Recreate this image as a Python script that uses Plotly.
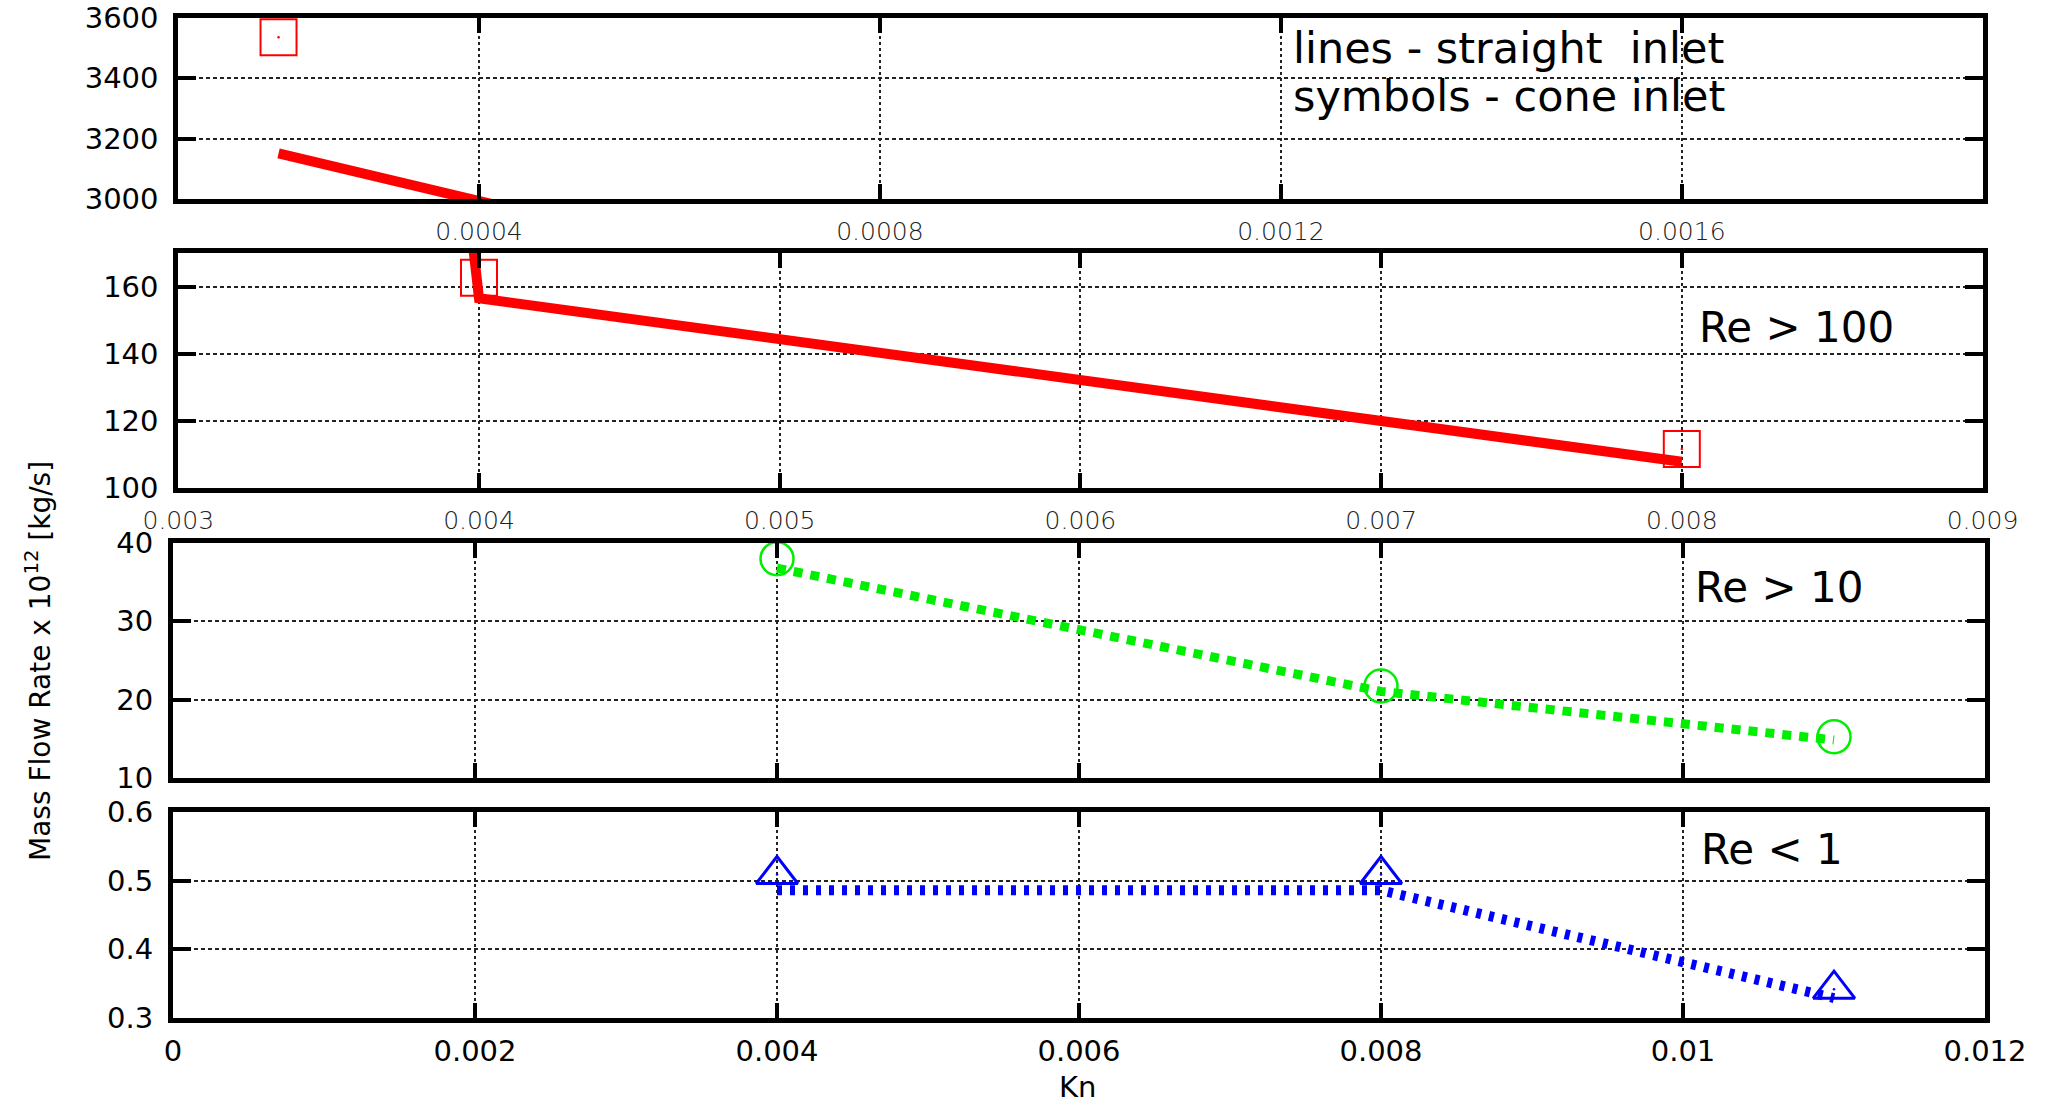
import plotly.graph_objects as go

W, H = 2052, 1106

# ---------------- data ----------------
# Re > 100 (red): straight inlet = line, cone inlet = squares
kn_re100_straight = [0.0002, 0.0004, 0.004, 0.008]
flow_re100_straight = [3151, 2998, 156.5, 107.8]
kn_re100_cone = [0.0002, 0.004, 0.008]
flow_re100_cone = [3535, 162.6, 111.6]

# Re > 10 (green): straight = dashed line, cone = circles
kn_re10 = [0.004, 0.008, 0.011]
flow_re10_straight = [36.8, 21.06, 14.85]
flow_re10_cone = [38.0, 21.74, 15.27]

# Re < 1 (blue): straight = dotted line, cone = triangles
kn_re1 = [0.004, 0.008, 0.011]
flow_re1_straight = [0.486, 0.486, 0.329]
flow_re1_cone = [0.509, 0.509, 0.342]

# ---------------- tick values / labels ----------------
p1_xticks = [0.0004, 0.0008, 0.0012, 0.0016]
p1_xlabels = ["0.0004", "0.0008", "0.0012", "0.0016"]
p2_xticks = [0.003, 0.004, 0.005, 0.006, 0.007, 0.008, 0.009]
p2_xlabels = ["0.003", "0.004", "0.005", "0.006", "0.007", "0.008", "0.009"]
kn_xticks = [0, 0.002, 0.004, 0.006, 0.008, 0.010, 0.012]
kn_xlabels = ["0", "0.002", "0.004", "0.006", "0.008", "0.01", "0.012"]

p1_yticks = [3000, 3200, 3400, 3600]
p2_yticks = [100, 120, 140, 160]
p3_yticks = [10, 20, 30, 40]
p4_yticks = [0.3, 0.4, 0.5, 0.6]
p4_ylabels = ["0.3", "0.4", "0.5", "0.6"]

panel_labels = ["Re > 100", "Re > 10", "Re < 1"]
legend_lines = ["lines - straight  inlet", "symbols - cone inlet"]

RED, GREEN, BLUE = "#ff0000", "#00ee00", "#0000ff"
FONT = "DejaVu Sans"


def fx(px):
    return px / W


def fy(py):
    return 1 - py / H


# panel boxes in pixels (left, right, top, bottom)
boxes = [
    (178.3, 1982.5, 17.5, 199),
    (178.3, 1982.5, 253, 488),
    (173, 1985, 543, 778),
    (173, 1985, 812, 1018),
]

fig = go.Figure()

# ---- panel 1 & 2 : Re > 100 (same data, different windows) ----
for ax in ["", "2"]:
    fig.add_trace(go.Scatter(
        x=kn_re100_straight, y=flow_re100_straight, mode="lines",
        line=dict(color=RED, width=10), xaxis="x" + ax, yaxis="y" + ax,
        showlegend=False, hoverinfo="skip"))
    fig.add_trace(go.Scatter(
        x=kn_re100_cone, y=flow_re100_cone, mode="markers",
        marker=dict(symbol="square-open", size=36, color=RED,
                    line=dict(color=RED, width=2)),
        xaxis="x" + ax, yaxis="y" + ax, showlegend=False, hoverinfo="skip"))
    fig.add_trace(go.Scatter(
        x=kn_re100_cone, y=flow_re100_cone, mode="markers",
        marker=dict(symbol="circle", size=2.5, color=RED),
        xaxis="x" + ax, yaxis="y" + ax, showlegend=False, hoverinfo="skip"))

# ---- panel 3 : Re > 10 ----
fig.add_trace(go.Scatter(
    x=kn_re10, y=flow_re10_straight, mode="lines",
    line=dict(color=GREEN, width=9, dash="9px,8px"),
    xaxis="x3", yaxis="y3", showlegend=False, hoverinfo="skip"))
fig.add_trace(go.Scatter(
    x=kn_re10, y=flow_re10_cone, mode="markers",
    marker=dict(symbol="circle-open", size=33, color=GREEN,
                line=dict(color=GREEN, width=2.5)),
    xaxis="x3", yaxis="y3", showlegend=False, hoverinfo="skip"))

# ---- panel 4 : Re < 1 ----
fig.add_trace(go.Scatter(
    x=kn_re1, y=flow_re1_straight, mode="lines",
    line=dict(color=BLUE, width=10, dash="5px,8px"),
    xaxis="x4", yaxis="y4", showlegend=False, hoverinfo="skip"))
fig.add_trace(go.Scatter(
    x=kn_re1, y=flow_re1_cone, mode="markers",
    marker=dict(symbol="triangle-up-open", size=36, color=BLUE,
                line=dict(color=BLUE, width=3)),
    xaxis="x4", yaxis="y4", showlegend=False, hoverinfo="skip"))
fig.add_trace(go.Scatter(
    x=kn_re1, y=flow_re1_cone, mode="markers",
    marker=dict(symbol="circle", size=2.5, color=BLUE),
    xaxis="x4", yaxis="y4", showlegend=False, hoverinfo="skip"))

common = dict(
    showline=True, linecolor="black", linewidth=5, mirror="allticks",
    ticks="inside", tickcolor="black", tickwidth=4,
    showgrid=True, gridcolor="#222222", gridwidth=1.5,
    zeroline=False, layer="above traces", fixedrange=True, automargin=False,
)
xcommon = dict(common, ticklen=15, griddash="3px,3px")
ycommon = dict(common, ticklen=18, griddash="4px,3px",
               tickfont=dict(family=FONT, size=29, color="black"),
               ticklabelstandoff=9)

small_font = dict(family=FONT, size=25, color="#222222", weight=300)
big_font = dict(family=FONT, size=29, color="black")

layout_axes = {}
x_specs = [
    dict(range=[0.0001, 0.0019], tickvals=p1_xticks, ticktext=p1_xlabels,
         tickfont=small_font, ticklabelstandoff=6),
    dict(range=[0.003, 0.009], tickvals=p2_xticks, ticktext=p2_xlabels,
         tickfont=small_font, ticklabelstandoff=6),
    dict(range=[0, 0.012], tickvals=kn_xticks, ticktext=kn_xlabels,
         showticklabels=False),
    dict(range=[0, 0.012], tickvals=kn_xticks, ticktext=kn_xlabels,
         tickfont=big_font, ticklabelstandoff=3),
]
y_specs = [
    dict(range=[3000, 3600], tickvals=p1_yticks, ticktext=[str(v) for v in p1_yticks]),
    dict(range=[100, 170], tickvals=p2_yticks, ticktext=[str(v) for v in p2_yticks]),
    dict(range=[10, 40], tickvals=p3_yticks, ticktext=[str(v) for v in p3_yticks]),
    dict(range=[0.3, 0.6], tickvals=p4_yticks, ticktext=p4_ylabels),
]
for i, (box, xs, ys) in enumerate(zip(boxes, x_specs, y_specs)):
    l, r, t, b = box
    sfx = "" if i == 0 else str(i + 1)
    layout_axes["xaxis" + sfx] = dict(
        xcommon, domain=[fx(l), fx(r)], anchor="y" + sfx, **xs)
    layout_axes["yaxis" + sfx] = dict(
        ycommon, domain=[fy(b), fy(t)], anchor="x" + sfx, **ys)

annotations = []
# legend text (top panel)
for txt, cy in zip(legend_lines, [48.5, 95.5]):
    annotations.append(dict(
        text=txt, xref="paper", yref="paper", x=fx(1291), y=fy(cy),
        xanchor="left", yanchor="middle", showarrow=False,
        font=dict(family=FONT, size=43, color="black")))
# regime labels
for txt, (px, cy) in zip(panel_labels, [(1697, 327.5), (1693, 587.5), (1699, 849.5)]):
    annotations.append(dict(
        text=txt, xref="paper", yref="paper", x=fx(px), y=fy(cy),
        xanchor="left", yanchor="middle", showarrow=False,
        font=dict(family=FONT, size=42, color="black")))
# axis titles
annotations.append(dict(
    text="Kn", xref="paper", yref="paper", x=fx(1077), y=fy(1087),
    xanchor="center", yanchor="middle", showarrow=False,
    font=dict(family=FONT, size=29, color="black")))
annotations.append(dict(
    text="Mass Flow Rate x 10<sup>12</sup> [kg/s]", xref="paper", yref="paper",
    x=fx(38), y=fy(661), xanchor="center", yanchor="middle", textangle=-90,
    showarrow=False, font=dict(family=FONT, size=28, color="black")))

fig.update_layout(
    width=W, height=H, autosize=False,
    margin=dict(l=0, r=0, t=0, b=0, pad=0),
    paper_bgcolor="white", plot_bgcolor="white",
    showlegend=False, annotations=annotations,
    **layout_axes,
)

fig.write_html("out.html", config={"displayModeBar": False})
